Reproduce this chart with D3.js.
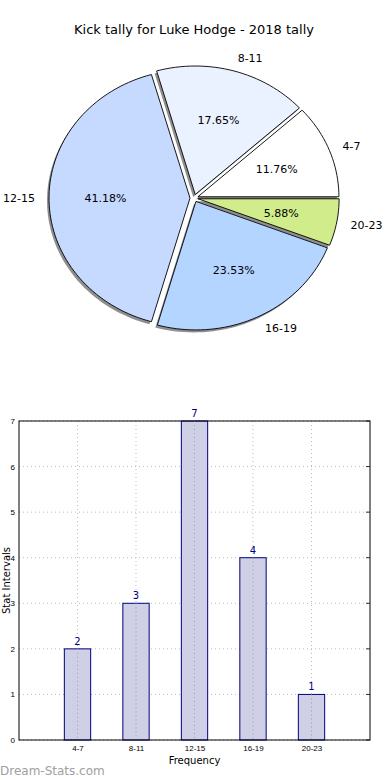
<!DOCTYPE html>
<html>
<head>
<meta charset="utf-8">
<script src="https://cdn.jsdelivr.net/npm/d3@7"></script>
<style>
  body { margin: 0; background: #fff; }
  svg { display: block; font-family: "DejaVu Sans", sans-serif; }
</style>
</head>
<body>
<svg id="chart" width="390" height="780"></svg>
<script>
// data
const categories = ["4-7", "8-11", "12-15", "16-19", "20-23"];
const counts = [2, 3, 7, 4, 1];
const sliceColors = ["#ffffff", "#eaf1ff", "#c6d9ff", "#b3d5ff", "#d0ec8b"];
const yTicks = [0, 1, 2, 3, 4, 5, 6, 7];

const svg = d3.select("#chart");

// ---- pie (matplotlib style: starts at 3 o'clock, runs counter-clockwise) ----
svg.append("text")
  .attr("x", 194).attr("y", 34)
  .attr("text-anchor", "middle")
  .style("font-size", "13px")
  .text("Kick tally for Luke Hodge - 2018 tally");

const cx = 194.1, cy = 198.1, rx = 141, ry = 128.5;
const explode = 0.029;
const total = d3.sum(counts);

// build wedges with angles in degrees (math convention)
let acc = 0;
const wedges = counts.map((v, i) => {
  const a0 = acc / total * 360;
  acc += v;
  const a1 = acc / total * 360;
  return { cat: categories[i], value: v, a0, a1, mid: (a0 + a1) / 2, color: sliceColors[i] };
});

const rad = (deg) => deg * Math.PI / 180;
// point on the (elliptical) pie in unit radius terms
const pt = (ox, oy, rho, deg) => [cx + rx * (ox + rho * Math.cos(rad(deg))), cy - ry * (oy + rho * Math.sin(rad(deg)))];

function wedgePath(w, dx, dy) {
  const ox = explode * Math.cos(rad(w.mid)), oy = explode * Math.sin(rad(w.mid));
  const pts = [pt(ox, oy, 0, w.a0)];
  const n = Math.max(8, Math.ceil((w.a1 - w.a0) / 2));
  d3.range(n + 1).forEach((k) => pts.push(pt(ox, oy, 1, w.a0 + (w.a1 - w.a0) * k / n)));
  return d3.line()(pts.map((p) => [p[0] + dx, p[1] + dy])) + "Z";
}

const pie = svg.append("g");

pie.selectAll("path.shadow")
  .data(wedges)
  .join("path")
  .attr("class", "shadow")
  .attr("d", (d) => wedgePath(d, -2, 2.5))
  .attr("fill", "#7a7a7a")
  .attr("fill-opacity", 0.85);

pie.selectAll("path.wedge")
  .data(wedges)
  .join("path")
  .attr("class", "wedge")
  .attr("d", (d) => wedgePath(d, 0, 0))
  .attr("fill", (d) => d.color)
  .attr("stroke", "#000")
  .attr("stroke-width", 0.9)
  .attr("stroke-linejoin", "round");

pie.selectAll("text.cat")
  .data(wedges)
  .join("text")
  .attr("class", "cat")
  .each(function (d) {
    const c = Math.cos(rad(d.mid)), s = Math.sin(rad(d.mid));
    const p = pt(explode * c, explode * s, 1.1, d.mid);
    d3.select(this)
      .attr("x", p[0]).attr("y", p[1])
      .attr("text-anchor", c > 0 ? "start" : "end");
  })
  .attr("dy", "0.35em")
  .style("font-size", "11px")
  .text((d) => d.cat);

pie.selectAll("text.pct")
  .data(wedges)
  .join("text")
  .attr("class", "pct")
  .each(function (d) {
    const c = Math.cos(rad(d.mid)), s = Math.sin(rad(d.mid));
    const p = pt(explode * c, explode * s, 0.6, d.mid);
    d3.select(this).attr("x", p[0]).attr("y", p[1]);
  })
  .attr("text-anchor", "middle")
  .attr("dy", "0.35em")
  .style("font-size", "11px")
  .text((d) => (d.value / total * 100).toFixed(2) + "%");

// ---- bar chart ----
const plotLeft = 19, plotRight = 370, plotTop = 421, plotBottom = 740;
const x = d3.scaleLinear().domain([0, 6]).range([plotLeft, plotRight]);
const y = d3.scaleLinear().domain([0, 7]).range([plotBottom, plotTop]);
const barW = 0.45;

const g = svg.append("g");

// grid
g.selectAll("line.ygrid")
  .data(yTicks)
  .join("line")
  .attr("class", "ygrid")
  .attr("x1", plotLeft).attr("x2", plotRight)
  .attr("y1", (d) => y(d)).attr("y2", (d) => y(d))
  .attr("stroke", "#bbb").attr("stroke-width", 1)
  .attr("stroke-dasharray", "1,3");

g.selectAll("line.xgrid")
  .data(categories)
  .join("line")
  .attr("class", "xgrid")
  .attr("x1", (d, i) => x(i + 1)).attr("x2", (d, i) => x(i + 1))
  .attr("y1", plotTop).attr("y2", plotBottom)
  .attr("stroke", "#bbb").attr("stroke-width", 1)
  .attr("stroke-dasharray", "1,3");

// bars
g.selectAll("rect.bar")
  .data(counts)
  .join("rect")
  .attr("class", "bar")
  .attr("x", (d, i) => x(i + 1 - barW / 2))
  .attr("width", x(barW) - x(0))
  .attr("y", (d) => y(d))
  .attr("height", (d) => y(0) - y(d))
  .attr("fill", "#cfcfe6")
  .attr("stroke", "#000080")
  .attr("stroke-width", 1);

// grid shows through bars
g.selectAll("line.xgrid2")
  .data(counts)
  .join("line")
  .attr("class", "xgrid2")
  .attr("x1", (d, i) => x(i + 1)).attr("x2", (d, i) => x(i + 1))
  .attr("y1", (d) => y(d)).attr("y2", plotBottom)
  .attr("stroke", "#9a9ab0").attr("stroke-width", 1)
  .attr("stroke-dasharray", "1,3");

g.selectAll("text.val")
  .data(counts)
  .join("text")
  .attr("class", "val")
  .attr("x", (d, i) => x(i + 1))
  .attr("y", (d) => y(d) - 4)
  .attr("text-anchor", "middle")
  .attr("fill", "#000080")
  .style("font-size", "10px")
  .text((d) => d);

// frame
g.append("rect")
  .attr("x", plotLeft).attr("y", plotTop)
  .attr("width", plotRight - plotLeft).attr("height", plotBottom - plotTop)
  .attr("fill", "none").attr("stroke", "#000").attr("stroke-width", 1);

// axes
const yAxis = d3.axisLeft(y).tickValues(yTicks).tickFormat(d3.format("d")).tickSize(0).tickPadding(4);
const xAxis = d3.axisBottom(x).tickValues(d3.range(1, 6)).tickFormat((d) => categories[d - 1]).tickSize(0).tickPadding(5);

g.append("g")
  .attr("transform", `translate(${plotLeft},0)`)
  .call(yAxis)
  .call((a) => a.select(".domain").remove())
  .selectAll("text").style("font-size", "8px").attr("fill", "#000");

g.append("g")
  .attr("transform", `translate(0,${plotBottom})`)
  .call(xAxis)
  .call((a) => a.select(".domain").remove())
  .selectAll("text").style("font-size", "8px").attr("fill", "#000");

// small inward ticks on the right edge like matplotlib
g.selectAll("line.rtick")
  .data(yTicks)
  .join("line")
  .attr("class", "rtick")
  .attr("x1", plotRight - 4).attr("x2", plotRight)
  .attr("y1", (d) => y(d)).attr("y2", (d) => y(d))
  .attr("stroke", "#000").attr("stroke-width", 0.8);

svg.append("text")
  .attr("x", (plotLeft + plotRight) / 2).attr("y", 764)
  .attr("text-anchor", "middle")
  .style("font-size", "10px")
  .text("Frequency");

svg.append("text")
  .attr("transform", `translate(9.5,${(plotTop + plotBottom) / 2}) rotate(-90)`)
  .attr("text-anchor", "middle")
  .style("font-size", "10px")
  .text("Stat Intervals");

svg.append("text")
  .attr("x", 0).attr("y", 775)
  .attr("fill", "#a0a0a0")
  .style("font-size", "12px")
  .text("Dream-Stats.com");
</script>
</body>
</html>
